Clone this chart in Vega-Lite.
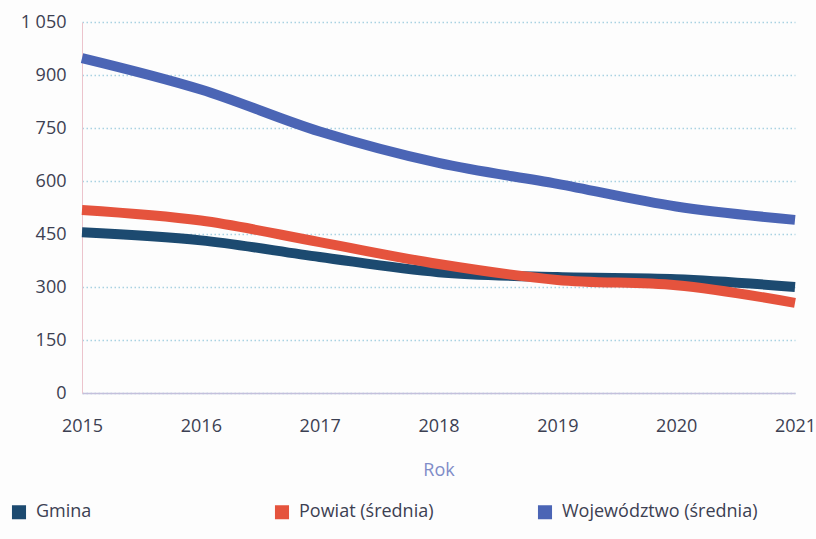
{
  "$schema": "https://vega.github.io/schema/vega-lite/v6.json",
  "width": 713,
  "height": 371,
  "autosize": "none",
  "padding": {"left": 82, "top": 22, "right": 21, "bottom": 146},
  "background": "#fdfdfd",
  "config": {
    "font": "Open Sans",
    "view": {"stroke": null}
  },
  "data": {
    "values": [
      {"Rok": 2015, "seria": "Gmina", "wartosc": 455},
      {"Rok": 2016, "seria": "Gmina", "wartosc": 432},
      {"Rok": 2017, "seria": "Gmina", "wartosc": 385},
      {"Rok": 2018, "seria": "Gmina", "wartosc": 342},
      {"Rok": 2019, "seria": "Gmina", "wartosc": 328},
      {"Rok": 2020, "seria": "Gmina", "wartosc": 322},
      {"Rok": 2021, "seria": "Gmina", "wartosc": 300},
      {"Rok": 2015, "seria": "Powiat (średnia)", "wartosc": 518},
      {"Rok": 2016, "seria": "Powiat (średnia)", "wartosc": 488},
      {"Rok": 2017, "seria": "Powiat (średnia)", "wartosc": 427},
      {"Rok": 2018, "seria": "Powiat (średnia)", "wartosc": 365},
      {"Rok": 2019, "seria": "Powiat (średnia)", "wartosc": 320},
      {"Rok": 2020, "seria": "Powiat (średnia)", "wartosc": 305},
      {"Rok": 2021, "seria": "Powiat (średnia)", "wartosc": 255},
      {"Rok": 2015, "seria": "Województwo (średnia)", "wartosc": 948},
      {"Rok": 2016, "seria": "Województwo (średnia)", "wartosc": 859},
      {"Rok": 2017, "seria": "Województwo (średnia)", "wartosc": 740},
      {"Rok": 2018, "seria": "Województwo (średnia)", "wartosc": 651},
      {"Rok": 2019, "seria": "Województwo (średnia)", "wartosc": 592},
      {"Rok": 2020, "seria": "Województwo (średnia)", "wartosc": 528},
      {"Rok": 2021, "seria": "Województwo (średnia)", "wartosc": 490}
    ]
  },
  "mark": {"type": "line", "strokeWidth": 10, "interpolate": "monotone", "strokeCap": "butt"},
  "encoding": {
    "x": {
      "field": "Rok",
      "type": "quantitative",
      "scale": {"domain": [2015, 2021], "nice": false, "zero": false},
      "axis": {
        "values": [2015, 2016, 2017, 2018, 2019, 2020, 2021],
        "format": "d",
        "grid": false,
        "ticks": false,
        "domain": true,
        "domainColor": "#c4c0dc",
        "domainWidth": 1.5,
        "labelFontSize": 18,
        "labelColor": "#3c4052",
        "labelPadding": 24,
        "labelFlush": false,
        "title": "Rok",
        "titleFontSize": 18,
        "titleFontWeight": "normal",
        "titleColor": "#7f8cc8",
        "titlePadding": 26
      }
    },
    "y": {
      "field": "wartosc",
      "type": "quantitative",
      "scale": {"domain": [0, 1050], "nice": false},
      "axis": {
        "values": [0, 150, 300, 450, 600, 750, 900, 1050],
        "labelExpr": "replace(format(datum.value, ','), ',', ' ')",
        "title": null,
        "ticks": false,
        "domain": true,
        "domainColor": "#ecc4cc",
        "domainWidth": 1,
        "grid": true,
        "gridColor": "#a9d2e2",
        "gridDash": [1.5, 2.5],
        "gridWidth": 1.5,
        "labelFontSize": 18,
        "labelColor": "#3c4052",
        "labelPadding": 16
      }
    },
    "color": {
      "field": "seria",
      "type": "nominal",
      "scale": {
        "domain": ["Gmina", "Powiat (średnia)", "Województwo (średnia)"],
        "range": ["#1c4a70", "#e5533d", "#4b65b5"]
      },
      "legend": {
        "title": null,
        "orient": "none",
        "legendX": -72,
        "legendY": 481,
        "direction": "horizontal",
        "columns": 3,
        "gridAlign": "all",
        "columnPadding": 32,
        "symbolType": "square",
        "symbolSize": 50,
        "symbolStrokeWidth": 7,
        "labelFontSize": 18,
        "labelColor": "#3c4052",
        "labelOffset": 8,
        "labelLimit": 300
      }
    }
  }
}
